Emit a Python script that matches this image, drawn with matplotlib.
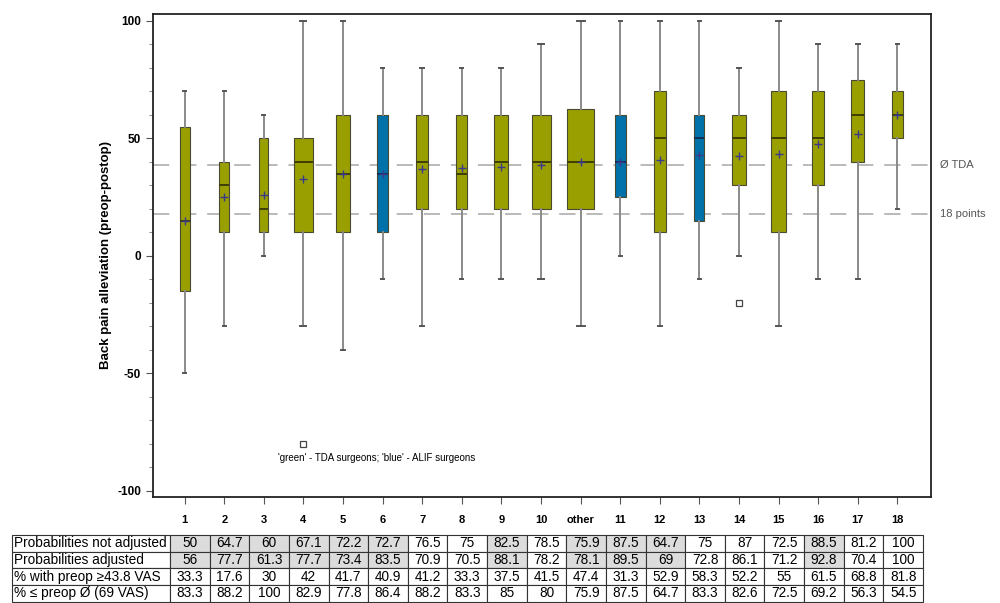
import matplotlib
matplotlib.use('Agg')
import matplotlib.pyplot as plt
from matplotlib.ticker import MultipleLocator

plt.rcParams['font.family'] = ['Liberation Sans', 'DejaVu Sans']

# surgeon categories and box statistics
categories = ['1', '2', '3', '4', '5', '6', '7', '8', '9', '10', 'other',
              '11', '12', '13', '14', '15', '16', '17', '18']
surgeon_type = ['TDA', 'TDA', 'TDA', 'TDA', 'TDA', 'ALIF', 'TDA', 'TDA', 'TDA', 'TDA', 'TDA',
                'ALIF', 'TDA', 'ALIF', 'TDA', 'TDA', 'TDA', 'TDA', 'TDA']
whisker_low = [-50, -30, 0, -30, -40, -10, -30, -10, -10, -10, -30, 0, -30, -10, 0, -30, -10, -10, 20]
q1 = [-15, 10, 10, 10, 10, 10, 20, 20, 20, 20, 20, 25, 10, 15, 30, 10, 30, 40, 50]
median = [15, 30, 20, 40, 35, 35, 40, 35, 40, 40, 40, 40, 50, 50, 50, 50, 50, 60, 60]
q3 = [55, 40, 50, 50, 60, 60, 60, 60, 60, 60, 62.5, 60, 70, 60, 60, 70, 70, 75, 70]
whisker_high = [70, 70, 60, 100, 100, 80, 80, 80, 80, 90, 100, 100, 100, 100, 80, 100, 90, 90, 90]
means = [15, 25, 26, 32.5, 35, 35, 37, 37.5, 38, 38.5, 40, 40, 41, 43, 42.5, 43.5, 47.5, 52, 60]
outliers = [[], [], [], [-80], [], [], [], [], [], [], [], [], [], [], [-20], [], [], [], []]

# relative box widths (box width in the original reflects group size)
box_widths = [0.25, 0.25, 0.23, 0.5, 0.35, 0.28, 0.3, 0.28, 0.35, 0.48, 0.68,
              0.28, 0.3, 0.25, 0.33, 0.38, 0.3, 0.33, 0.28]

tda_mean = 38.8
min_points = 18

# table below the chart
row_labels = ['Probabilities not adjusted', 'Probabilities adjusted',
              '% with preop \u226543.8 VAS', '% \u2264 preop \u00d8 (69 VAS)']
prob_not_adjusted = [50, 64.7, 60, 67.1, 72.2, 72.7, 76.5, 75, 82.5, 78.5, 75.9,
                     87.5, 64.7, 75, 87, 72.5, 88.5, 81.2, 100]
prob_adjusted = [56, 77.7, 61.3, 77.7, 73.4, 83.5, 70.9, 70.5, 88.1, 78.2, 78.1,
                 89.5, 69, 72.8, 86.1, 71.2, 92.8, 70.4, 100]
pct_high_preop = [33.3, 17.6, 30, 42, 41.7, 40.9, 41.2, 33.3, 37.5, 41.5, 47.4,
                  31.3, 52.9, 58.3, 52.2, 55, 61.5, 68.8, 81.8]
pct_below_mean = [83.3, 88.2, 100, 82.9, 77.8, 86.4, 88.2, 83.3, 85, 80, 75.9,
                  87.5, 64.7, 83.3, 82.6, 72.5, 69.2, 56.3, 54.5]
shaded = [True, True, True, True, True, True, False, False, True, False, True,
          True, True, False, False, False, True, False, False]

colors = {'TDA': '#9a9f00', 'ALIF': '#0071a9'}
median_colors = {'TDA': '#3d3f00', 'ALIF': '#0d2f55'}

fig = plt.figure(figsize=(10, 6.03), dpi=100)
ax = fig.add_axes([0.153, 0.176, 0.778, 0.801])

positions = list(range(1, len(categories) + 1))
stats = []
for i, c in enumerate(categories):
    stats.append(dict(label=c, whislo=whisker_low[i], q1=q1[i], med=median[i],
                      q3=q3[i], whishi=whisker_high[i], mean=means[i], fliers=outliers[i]))

ax.axhline(tda_mean, color='#b4b4b4', lw=1.3, dashes=(9, 6), zorder=1)
ax.axhline(min_points, color='#b4b4b4', lw=1.3, dashes=(9, 6), zorder=1)

bp = ax.bxp(stats, positions=positions, widths=box_widths, patch_artist=True,
            showmeans=True, capwidths=[w * 0.3 for w in box_widths],
            whiskerprops=dict(color='#8a8a8a', lw=1.4),
            capprops=dict(color='#555555', lw=1.4),
            meanprops=dict(marker='+', markeredgecolor='#3a3a8a', markersize=5.5, markeredgewidth=1.0),
            flierprops=dict(marker='s', markerfacecolor='none', markeredgecolor='#444444',
                            markersize=5, markeredgewidth=0.9),
            zorder=2)
for i, patch in enumerate(bp['boxes']):
    patch.set_facecolor(colors[surgeon_type[i]])
    patch.set_edgecolor('#4a4a30')
    patch.set_linewidth(0.8)
for i, line in enumerate(bp['medians']):
    line.set_color(median_colors[surgeon_type[i]])
    line.set_linewidth(1.4)

ax.set_xlim(0.2, 19.85)
ax.set_ylim(-102.6, 103)
ax.set_xticks(positions)
ax.set_xticklabels(categories, fontsize=8, fontweight='bold')
ax.set_yticks([-100, -50, 0, 50, 100])
ax.set_yticklabels(['-100', '-50', '0', '50', '100'], fontsize=8.5, fontweight='bold')
ax.yaxis.set_minor_locator(MultipleLocator(10))
ax.tick_params(axis='both', which='major', direction='out', length=5, color='#555555')
ax.tick_params(axis='y', which='minor', direction='out', length=3, color='#777777')
ax.tick_params(axis='x', pad=8)
for s in ax.spines.values():
    s.set_linewidth(1.3)
    s.set_color('#222222')
ax.set_ylabel('Back pain alleviation (preop-postop)', fontsize=9.5, fontweight='bold', labelpad=4)

ax.text(1.011, tda_mean, '\u00d8 TDA', transform=ax.get_yaxis_transform(),
        fontsize=8, color='#555555', va='center')
ax.text(1.011, min_points, '18 points', transform=ax.get_yaxis_transform(),
        fontsize=8, color='#555555', va='center')
ax.text(0.288, 0.081, "'green' - TDA surgeons; 'blue' - ALIF surgeons",
        transform=ax.transAxes, ha='center', va='center', fontsize=7,
        family=['Liberation Sans Narrow', 'Liberation Sans'])

# table
tax = fig.add_axes([0.012, 0.002, 0.911, 0.111])
tax.axis('off')
rows = [prob_not_adjusted, prob_adjusted, pct_high_preop, pct_below_mean]
cell_text = [[row_labels[r]] + [('%g' % v) for v in rows[r]] for r in range(len(rows))]
label_w = 158 / 911
data_w = (1 - label_w) / len(categories)
tbl = tax.table(cellText=cell_text, colWidths=[label_w] + [data_w] * len(categories),
                cellLoc='center', bbox=[0, 0, 1, 1])
tbl.auto_set_font_size(False)
tbl.set_fontsize(9.8)
for (r, c), cell in tbl.get_celld().items():
    cell.set_edgecolor('#333333')
    cell.set_linewidth(0.8)
    cell.PAD = 0.012
    if c == 0:
        cell.get_text().set_horizontalalignment('left')
    elif r < 2 and shaded[c - 1]:
        cell.set_facecolor('#dcdcdc')

fig.savefig('out.png', dpi=100)
